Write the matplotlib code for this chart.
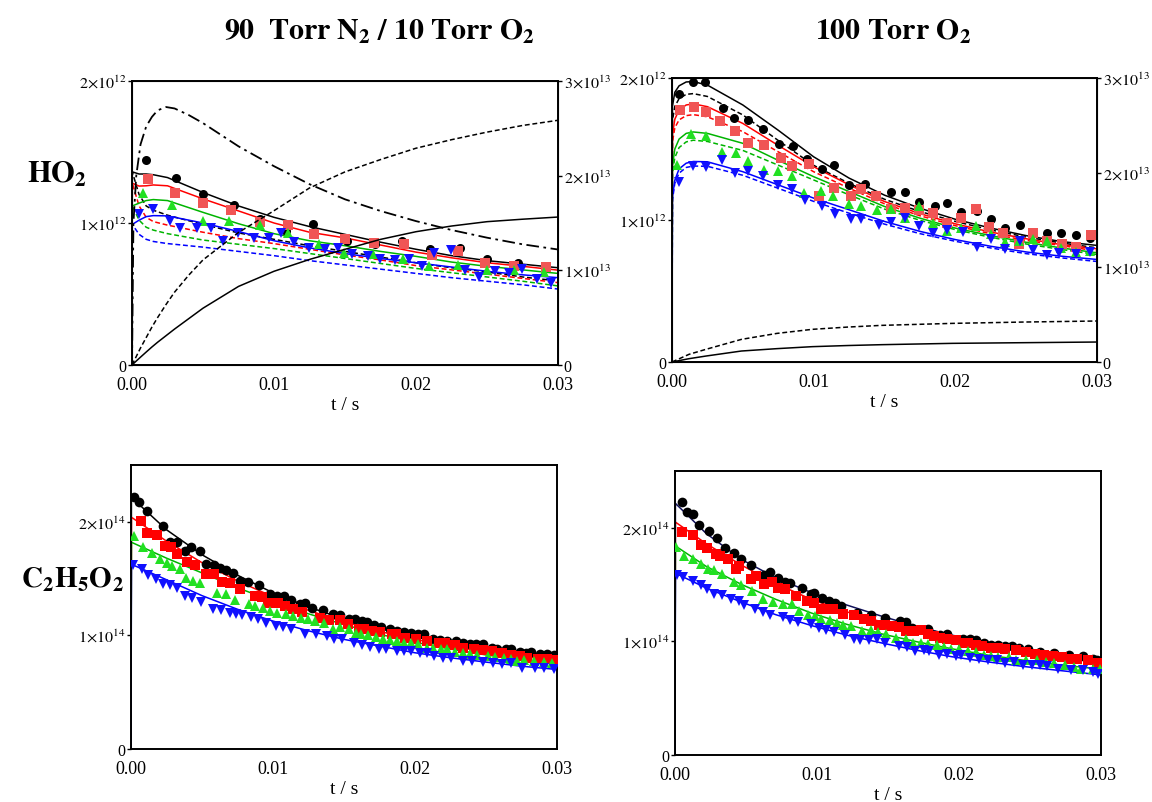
import numpy as np
import matplotlib
matplotlib.use('Agg')
import matplotlib.pyplot as plt
from matplotlib.ticker import FixedLocator

plt.rcParams['font.family'] = 'serif'
plt.rcParams['font.serif'] = ['Liberation Serif', 'DejaVu Serif']
plt.rcParams['mathtext.fontset'] = 'stix'

# ---------------- HO2, 90 Torr N2 / 10 Torr O2 (units 1e12, right axis 1e13) ----------------
t_n2_ho2_black = [0.00101, 0.0031, 0.00497, 0.00718, 0.00903, 0.01084, 0.01278, 0.01513, 0.01714,
                  0.01903, 0.02097, 0.02307, 0.02501, 0.02718]
n2_ho2_black = [1.441, 1.319, 1.202, 1.127, 1.031, 0.944, 0.995, 0.873, 0.850, 0.873, 0.815, 0.822, 0.744, 0.721]
t_n2_ho2_red = [0.00113, 0.00303, 0.00499, 0.00698, 0.009, 0.01102, 0.01283, 0.015, 0.01702, 0.01916,
                0.02113, 0.02299, 0.02483, 0.02692, 0.02912]
n2_ho2_red = [1.307, 1.209, 1.143, 1.092, 1.007, 0.986, 0.925, 0.885, 0.862, 0.854, 0.775, 0.803, 0.721, 0.697, 0.692]
t_n2_ho2_green = [0.00076, 0.00285, 0.00499, 0.00686, 0.00903, 0.01102, 0.01316, 0.01492, 0.01697,
                  0.01911, 0.02092, 0.02299, 0.02501, 0.02692, 0.02899]
n2_ho2_green = [1.209, 1.124, 1.014, 1.014, 0.986, 0.927, 0.850, 0.791, 0.779, 0.749, 0.697, 0.702, 0.669, 0.669, 0.657]
t_n2_ho2_blue = [0.0005, 0.00151, 0.00265, 0.0034, 0.00461, 0.00555, 0.00643, 0.00744, 0.00857, 0.00966,
                 0.01046, 0.01142, 0.01243, 0.01361, 0.0145, 0.0155, 0.01664, 0.01747, 0.01853, 0.01954,
                 0.02042, 0.0213, 0.02244, 0.02345, 0.02445, 0.02554, 0.02655, 0.02748, 0.02849, 0.0295]
n2_ho2_blue = [1.061, 1.101, 1.014, 0.967, 0.967, 0.967, 0.873, 0.932, 0.897, 0.897, 0.932, 0.866, 0.826, 0.819,
               0.826, 0.779, 0.768, 0.744, 0.739, 0.749, 0.697, 0.791, 0.810, 0.669, 0.622, 0.662, 0.650, 0.674,
               0.608, 0.575]

t_n2_model = [0, 0.00002, 0.0005, 0.001, 0.0015, 0.0025, 0.005, 0.0075, 0.01, 0.0125, 0.015, 0.0175,
              0.02, 0.0225, 0.025, 0.0275, 0.03]
n2_fit_black = [0, 1.36, 1.345, 1.345, 1.34, 1.32, 1.215, 1.12, 1.04, 0.975, 0.92, 0.865, 0.815, 0.77, 0.735, 0.71, 0.685]
n2_fit_red = [0, 1.28, 1.26, 1.262, 1.268, 1.262, 1.17, 1.085, 1.0, 0.935, 0.895, 0.845, 0.795, 0.755, 0.72, 0.695, 0.668]
n2_fit_green = [0, 1.12, 1.14, 1.158, 1.165, 1.158, 1.075, 0.995, 0.925, 0.875, 0.84, 0.8, 0.765, 0.725, 0.695, 0.67, 0.645]
n2_fit_blue = [0, 0.99, 1.02, 1.045, 1.052, 1.05, 1.0, 0.94, 0.875, 0.825, 0.785, 0.75, 0.72, 0.69, 0.66, 0.635, 0.615]
n2_alt_black = [0, 1.36, 1.2, 1.12, 1.09, 1.055, 0.99, 0.93, 0.885, 0.84, 0.80, 0.76, 0.72, 0.685, 0.655, 0.62, 0.592]
n2_alt_red = [0, 1.28, 1.12, 1.04, 1.01, 0.985, 0.935, 0.89, 0.855, 0.815, 0.775, 0.74, 0.70, 0.67, 0.64, 0.61, 0.58]
n2_alt_green = [0, 1.12, 1.02, 0.97, 0.95, 0.925, 0.88, 0.85, 0.82, 0.785, 0.75, 0.715, 0.68, 0.65, 0.62, 0.59, 0.557]
n2_alt_blue = [0, 0.99, 0.92, 0.885, 0.87, 0.855, 0.83, 0.80, 0.77, 0.735, 0.705, 0.675, 0.645, 0.615, 0.59, 0.565, 0.535]

t_n2_right = [0, 0.0001, 0.0003, 0.0006, 0.001, 0.0014, 0.0018, 0.0024, 0.003, 0.004, 0.005, 0.0075, 0.01,
              0.0125, 0.015, 0.0175, 0.02, 0.0225, 0.025, 0.0275, 0.03]
n2_right_dashdot = [0, 1.5, 2.0, 2.33, 2.52, 2.62, 2.69, 2.725, 2.71, 2.64, 2.555, 2.31, 2.10, 1.91, 1.75,
                    1.627, 1.52, 1.426, 1.345, 1.275, 1.22]
n2_right_dashed = [0, 0.03, 0.09, 0.18, 0.29, 0.40, 0.50, 0.64, 0.77, 0.95, 1.11, 1.40, 1.63, 1.87, 2.04,
                   2.17, 2.29, 2.38, 2.46, 2.53, 2.585]
n2_right_solid = [0, 0.014, 0.042, 0.083, 0.137, 0.19, 0.24, 0.31, 0.38, 0.49, 0.60, 0.83, 0.99, 1.115,
                  1.222, 1.327, 1.408, 1.468, 1.514, 1.54, 1.563]

# ---------------- HO2, 100 Torr O2 ----------------
t_o2_ho2_black = [0.00047, 0.00147, 0.00236, 0.0036, 0.00435, 0.00539, 0.00639, 0.00758, 0.00855, 0.00954,
                  0.01056, 0.01141, 0.01248, 0.0136, 0.01546, 0.01645, 0.01745, 0.01857, 0.01944, 0.02043,
                  0.02155, 0.02254, 0.02354, 0.02453, 0.02548, 0.02647, 0.02746, 0.02851, 0.0295]
o2_ho2_black = [1.887, 1.970, 1.970, 1.787, 1.719, 1.702, 1.644, 1.538, 1.519, 1.430, 1.360, 1.390, 1.250,
                1.254, 1.198, 1.198, 1.125, 1.097, 1.121, 1.055, 1.062, 1.004, 0.945, 0.964, 0.910, 0.910,
                0.910, 0.893, 0.870]
t_o2_ho2_red = [0.00055, 0.00154, 0.00241, 0.0034, 0.00447, 0.00539, 0.00651, 0.00768, 0.0085, 0.00967,
                0.01036, 0.01141, 0.01261, 0.01335, 0.01439, 0.01546, 0.01645, 0.01745, 0.01844, 0.01944,
                0.02043, 0.02143, 0.02237, 0.02336, 0.02448, 0.02548, 0.02647, 0.02751, 0.02851, 0.02958]
o2_ho2_red = [1.777, 1.794, 1.761, 1.700, 1.630, 1.543, 1.531, 1.437, 1.379, 1.397, 1.172, 1.226, 1.168,
              1.219, 1.168, 1.079, 1.086, 1.069, 1.046, 0.980, 1.015, 1.079, 0.952, 0.910, 0.828, 0.910,
              0.851, 0.828, 0.809, 0.891]
t_o2_ho2_green = [0.00037, 0.00137, 0.00241, 0.00353, 0.00452, 0.00534, 0.00651, 0.00751, 0.0085, 0.00932,
                  0.01049, 0.01136, 0.01248, 0.01335, 0.01447, 0.01546, 0.01645, 0.01745, 0.01844, 0.01944,
                  0.02043, 0.02143, 0.02249, 0.02354, 0.02448, 0.02548, 0.02647, 0.02746, 0.02851, 0.0295]
o2_ho2_green = [1.390, 1.608, 1.594, 1.480, 1.472, 1.414, 1.355, 1.343, 1.308, 1.191, 1.203, 1.172, 1.116,
                1.097, 1.069, 1.074, 1.015, 1.097, 0.980, 0.921, 0.945, 0.957, 0.898, 0.844, 0.851, 0.863,
                0.851, 0.804, 0.774, 0.781]
t_o2_ho2_blue = [0.00047, 0.00147, 0.00241, 0.00353, 0.00447, 0.00539, 0.00639, 0.00751, 0.0085, 0.00942,
                 0.01056, 0.01148, 0.0126, 0.01335, 0.01459, 0.01546, 0.01645, 0.01745, 0.01844, 0.01944,
                 0.02055, 0.02155, 0.02249, 0.02354, 0.02453, 0.02548, 0.02647, 0.02732, 0.02851, 0.0295]
o2_ho2_blue = [1.266, 1.379, 1.374, 1.421, 1.332, 1.343, 1.308, 1.243, 1.215, 1.144, 1.097, 1.039, 1.008,
               1.004, 0.968, 0.985, 1.015, 0.957, 0.910, 0.933, 0.914, 0.811, 0.868, 0.797, 0.851, 0.788,
               0.753, 0.769, 0.762, 0.774]

t_o2_model = [0, 0.00003, 0.0002, 0.0005, 0.001, 0.0015, 0.0025, 0.005, 0.0075, 0.01, 0.0125, 0.015,
              0.0175, 0.02, 0.0225, 0.025, 0.0275, 0.03]
o2_fit_black = [0, 1.80, 1.90, 1.945, 1.972, 1.975, 1.95, 1.81, 1.632, 1.445, 1.295, 1.175, 1.083, 1.005, 0.943, 0.89, 0.848, 0.821]
o2_alt_black = [0, 1.70, 1.80, 1.855, 1.885, 1.89, 1.87, 1.74, 1.56, 1.385, 1.258, 1.146, 1.06, 0.99, 0.93, 0.88, 0.838, 0.804]
o2_fit_red = [0, 1.60, 1.71, 1.775, 1.81, 1.818, 1.798, 1.68, 1.525, 1.375, 1.248, 1.13, 1.045, 0.973, 0.915, 0.868, 0.826, 0.797]
o2_alt_red = [0, 1.55, 1.65, 1.705, 1.735, 1.742, 1.727, 1.622, 1.48, 1.34, 1.224, 1.114, 1.03, 0.96, 0.903, 0.856, 0.82, 0.781]
o2_fit_green = [0, 1.38, 1.50, 1.57, 1.61, 1.62, 1.61, 1.54, 1.42, 1.305, 1.2, 1.095, 1.013, 0.943, 0.89, 0.843, 0.803, 0.769]
o2_alt_green = [0, 1.33, 1.44, 1.51, 1.55, 1.562, 1.553, 1.49, 1.386, 1.282, 1.177, 1.077, 0.998, 0.932, 0.878, 0.831, 0.792, 0.757]
o2_fit_blue = [0, 1.16, 1.28, 1.36, 1.40, 1.412, 1.41, 1.34, 1.247, 1.154, 1.072, 0.99, 0.92, 0.862, 0.815, 0.775, 0.745, 0.722]
o2_alt_blue = [0, 1.14, 1.26, 1.33, 1.37, 1.38, 1.378, 1.315, 1.223, 1.131, 1.048, 0.971, 0.904, 0.85, 0.803, 0.763, 0.733, 0.708]

t_o2_right = [0, 0.0012, 0.0024, 0.0049, 0.0074, 0.0099, 0.0124, 0.0148, 0.0198, 0.0248, 0.03]
o2_right_dashed = [0, 0.081, 0.134, 0.239, 0.302, 0.345, 0.369, 0.387, 0.408, 0.422, 0.433]
o2_right_solid = [0, 0.035, 0.063, 0.116, 0.141, 0.162, 0.174, 0.183, 0.197, 0.204, 0.211]

# ---------------- C2H5O2, 90 Torr N2 / 10 Torr O2 (units 1e14) ----------------
t_n2_ro2_black = [0.0002, 0.00055, 0.00113, 0.00226, 0.00277, 0.00327, 0.00377, 0.00422, 0.00483, 0.00528,
                  0.00583, 0.00624, 0.00666, 0.00717, 0.00767, 0.00825, 0.009, 0.00981, 0.01026, 0.01076,
                  0.01127, 0.01187, 0.01227, 0.01272, 0.01353, 0.01421, 0.01471, 0.01534, 0.01579, 0.01629,
                  0.0166, 0.0171, 0.01761, 0.01823, 0.01873, 0.01924, 0.01974, 0.02024, 0.02062, 0.02125,
                  0.02175, 0.02226, 0.02288, 0.02339, 0.02389, 0.02427, 0.02477, 0.0254, 0.02578, 0.0264,
                  0.02678, 0.02741, 0.02779, 0.02816, 0.02879, 0.0293, 0.0298]
n2_ro2_black = [2.215, 2.176, 2.097, 1.959, 1.818, 1.824, 1.744, 1.774, 1.744, 1.626, 1.618, 1.597, 1.574,
                1.547, 1.479, 1.471, 1.441, 1.362, 1.347, 1.347, 1.309, 1.274, 1.282, 1.244, 1.224, 1.191,
                1.176, 1.147, 1.141, 1.126, 1.118, 1.088, 1.074, 1.053, 1.038, 1.029, 1.024, 1.009, 1.009,
                0.971, 0.959, 0.950, 0.950, 0.935, 0.921, 0.921, 0.921, 0.891, 0.882, 0.876, 0.882, 0.853,
                0.847, 0.853, 0.832, 0.832, 0.824]
t_n2_ro2_red = [0.0007, 0.00113, 0.00181, 0.00239, 0.00282, 0.00322, 0.00397, 0.00453, 0.00528, 0.00583,
                0.00641, 0.00699, 0.00767, 0.00875, 0.00925, 0.00968, 0.01036, 0.01086, 0.01144, 0.01207,
                0.01333, 0.01396, 0.01471, 0.01529, 0.01604, 0.0164, 0.01697, 0.01755, 0.01836, 0.01866,
                0.01931, 0.02007, 0.02087, 0.02168, 0.02213, 0.02283, 0.02339, 0.02414, 0.02477, 0.0254,
                0.02615, 0.02678, 0.02741, 0.02791, 0.02867, 0.0293, 0.0298]
n2_ro2_red = [2.009, 1.900, 1.882, 1.788, 1.774, 1.715, 1.647, 1.618, 1.538, 1.538, 1.471, 1.465, 1.412,
              1.347, 1.341, 1.288, 1.288, 1.259, 1.235, 1.206, 1.156, 1.132, 1.132, 1.097, 1.059, 1.059,
              1.038, 1.029, 1.009, 1.009, 0.979, 0.971, 0.950, 0.935, 0.929, 0.912, 0.891, 0.882, 0.871,
              0.862, 0.841, 0.824, 0.818, 0.803, 0.788, 0.788, 0.782]
t_n2_ro2_green = [0.0002, 0.00088, 0.00146, 0.00201, 0.00251, 0.00289, 0.00347, 0.0039, 0.0044, 0.00483,
                  0.00604, 0.00666, 0.00729, 0.0083, 0.00875, 0.0093, 0.00981, 0.01031, 0.01094, 0.01144,
                  0.01195, 0.01245, 0.01295, 0.01358, 0.01421, 0.01471, 0.01534, 0.01584, 0.01622, 0.01672,
                  0.01723, 0.01773, 0.01823, 0.01873, 0.01924, 0.01974, 0.02024, 0.02082, 0.02125, 0.02183,
                  0.02226, 0.02283, 0.02339, 0.02389, 0.02439, 0.02515, 0.02565, 0.02628, 0.02678, 0.02716,
                  0.02771, 0.02837, 0.02905, 0.02967]
n2_ro2_green = [1.871, 1.782, 1.729, 1.676, 1.635, 1.612, 1.582, 1.509, 1.479, 1.459, 1.376, 1.362, 1.312,
                1.274, 1.259, 1.244, 1.215, 1.200, 1.185, 1.171, 1.156, 1.141, 1.126, 1.112, 1.059, 1.076,
                1.059, 1.024, 1.009, 1.000, 0.988, 0.971, 0.959, 0.950, 0.929, 0.929, 0.921, 0.891, 0.891,
                0.876, 0.876, 0.853, 0.847, 0.832, 0.824, 0.818, 0.812, 0.803, 0.794, 0.774, 0.782, 0.774,
                0.765, 0.753]
t_n2_ro2_blue = [0.00013, 0.0008, 0.00121, 0.00176, 0.00226, 0.00272, 0.00327, 0.00377, 0.00428, 0.0049,
                 0.00578, 0.00634, 0.00699, 0.00742, 0.00785, 0.00842, 0.00893, 0.00951, 0.01018, 0.01069,
                 0.01127, 0.01227, 0.01303, 0.01378, 0.01428, 0.01484, 0.01572, 0.0163, 0.01685, 0.01748,
                 0.01798, 0.01873, 0.01924, 0.01974, 0.02032, 0.02087, 0.02132, 0.022, 0.02251, 0.02339,
                 0.02401, 0.02477, 0.02552, 0.02615, 0.02678, 0.02754, 0.02842, 0.02905, 0.0298]
n2_ro2_blue = [1.618, 1.582, 1.529, 1.494, 1.450, 1.441, 1.421, 1.347, 1.332, 1.294, 1.229, 1.224, 1.200,
               1.185, 1.176, 1.165, 1.141, 1.106, 1.082, 1.076, 1.059, 1.009, 1.009, 0.994, 0.971, 0.971,
               0.929, 0.912, 0.900, 0.882, 0.882, 0.862, 0.862, 0.862, 0.847, 0.847, 0.818, 0.803, 0.803,
               0.774, 0.774, 0.765, 0.753, 0.744, 0.759, 0.715, 0.715, 0.715, 0.706]

t_n2_ro2_model = [0, 0.00003, 0.0025, 0.005, 0.0075, 0.01, 0.0125, 0.015, 0.0175, 0.02, 0.0225, 0.025, 0.0275, 0.03]
n2_ro2_fit_black = [0, 2.215, 1.93, 1.71, 1.53, 1.375, 1.25, 1.145, 1.06, 0.985, 0.925, 0.875, 0.835, 0.80]
n2_ro2_fit_red = [0, 2.04, 1.83, 1.64, 1.48, 1.34, 1.22, 1.12, 1.035, 0.965, 0.905, 0.855, 0.815, 0.78]
n2_ro2_fit_green = [0, 1.82, 1.68, 1.55, 1.42, 1.30, 1.19, 1.095, 1.01, 0.94, 0.88, 0.828, 0.785, 0.75]
n2_ro2_fit_blue = [0, 1.626, 1.49, 1.35, 1.23, 1.126, 1.04, 0.965, 0.906, 0.847, 0.803, 0.765, 0.729, 0.70]

# ---------------- C2H5O2, 100 Torr O2 ----------------
t_o2_ro2_black = [0.0005, 0.00082, 0.00124, 0.00169, 0.00238, 0.00297, 0.00355, 0.00416, 0.00466, 0.00535,
                  0.00627, 0.00669, 0.00726, 0.00776, 0.00813, 0.00892, 0.00957, 0.00982, 0.01036, 0.01086,
                  0.0113, 0.01168, 0.01284, 0.01383, 0.01482, 0.01582, 0.01626, 0.01668, 0.0178, 0.01825,
                  0.01867, 0.01916, 0.02028, 0.02077, 0.02122, 0.02177, 0.02226, 0.02276, 0.02325, 0.02375,
                  0.02424, 0.02486, 0.02573, 0.02672, 0.02772, 0.02871, 0.02945, 0.0297]
o2_ro2_black = [2.224, 2.141, 2.118, 2.029, 1.971, 1.912, 1.824, 1.782, 1.724, 1.671, 1.582, 1.612, 1.559,
                1.524, 1.518, 1.471, 1.421, 1.429, 1.382, 1.353, 1.341, 1.312, 1.253, 1.235, 1.206, 1.176,
                1.171, 1.118, 1.106, 1.059, 1.059, 1.068, 1.024, 1.018, 1.009, 0.988, 0.971, 0.971, 0.959,
                0.959, 0.941, 0.929, 0.906, 0.900, 0.876, 0.871, 0.847, 0.832]
t_o2_ro2_red = [0.0005, 0.00124, 0.00181, 0.00223, 0.00288, 0.00317, 0.00372, 0.00429, 0.00454, 0.00535,
                0.0057, 0.00627, 0.00684, 0.00726, 0.00776, 0.0085, 0.00932, 0.00982, 0.01031, 0.01066,
                0.01111, 0.01185, 0.01259, 0.01329, 0.01383, 0.01438, 0.01482, 0.01527, 0.01577, 0.01626,
                0.01681, 0.0173, 0.0178, 0.01825, 0.01867, 0.01916, 0.01978, 0.02028, 0.02065, 0.02122,
                0.02164, 0.02226, 0.02276, 0.02325, 0.024, 0.02474, 0.02536, 0.02598, 0.0266, 0.02722,
                0.02784, 0.02834, 0.02908, 0.02975]
o2_ro2_red = [1.965, 1.941, 1.847, 1.824, 1.765, 1.753, 1.724, 1.635, 1.665, 1.553, 1.576, 1.509, 1.524,
              1.471, 1.459, 1.400, 1.353, 1.341, 1.288, 1.288, 1.282, 1.244, 1.229, 1.194, 1.176, 1.147,
              1.147, 1.135, 1.126, 1.088, 1.088, 1.097, 1.068, 1.047, 1.029, 1.024, 1.009, 0.988, 0.988,
              0.971, 0.959, 0.941, 0.941, 0.935, 0.921, 0.906, 0.891, 0.882, 0.871, 0.862, 0.847, 0.841,
              0.832, 0.812]
t_o2_ro2_green = [0.00007, 0.00064, 0.00124, 0.00181, 0.00231, 0.00273, 0.0033, 0.00416, 0.00466, 0.0054,
                  0.0062, 0.00689, 0.00764, 0.00826, 0.00875, 0.00937, 0.00987, 0.01031, 0.01091, 0.0114,
                  0.01185, 0.0124, 0.01314, 0.01378, 0.01433, 0.01487, 0.01557, 0.01626, 0.01676, 0.0173,
                  0.0178, 0.01842, 0.01891, 0.01941, 0.02003, 0.02065, 0.02122, 0.02177, 0.02226, 0.02276,
                  0.0235, 0.024, 0.02474, 0.02548, 0.0261, 0.02672, 0.02747, 0.02809, 0.02858, 0.02945, 0.02995]
o2_ro2_green = [1.832, 1.753, 1.729, 1.685, 1.641, 1.626, 1.597, 1.524, 1.494, 1.441, 1.376, 1.347, 1.332,
                1.332, 1.265, 1.235, 1.224, 1.200, 1.185, 1.165, 1.147, 1.135, 1.088, 1.097, 1.082, 1.068,
                1.029, 1.018, 0.988, 0.988, 0.979, 0.971, 0.950, 0.935, 0.935, 0.912, 0.906, 0.876, 0.871,
                0.862, 0.862, 0.832, 0.832, 0.832, 0.818, 0.812, 0.794, 0.774, 0.759, 0.759, 0.753]
t_o2_ro2_blue = [0.00015, 0.00057, 0.00124, 0.00181, 0.00223, 0.00273, 0.0033, 0.00397, 0.00454, 0.00486,
                 0.00565, 0.0062, 0.00669, 0.00759, 0.00813, 0.00863, 0.00957, 0.01011, 0.01066, 0.01123,
                 0.01197, 0.01259, 0.01304, 0.01363, 0.0142, 0.01477, 0.01577, 0.01631, 0.01693, 0.0175,
                 0.01792, 0.01859, 0.01916, 0.01978, 0.02015, 0.02077, 0.02139, 0.02201, 0.02271, 0.02325,
                 0.02387, 0.02449, 0.02511, 0.02573, 0.02623, 0.02697, 0.02791, 0.02871, 0.02945, 0.02982]
o2_ro2_blue = [1.582, 1.568, 1.529, 1.494, 1.459, 1.421, 1.412, 1.376, 1.353, 1.318, 1.288, 1.259, 1.235,
               1.215, 1.185, 1.171, 1.156, 1.118, 1.097, 1.082, 1.053, 1.024, 1.009, 1.009, 1.024, 0.988,
               0.959, 0.950, 0.912, 0.921, 0.912, 0.876, 0.891, 0.871, 0.882, 0.853, 0.847, 0.832, 0.832,
               0.812, 0.818, 0.788, 0.788, 0.788, 0.782, 0.759, 0.744, 0.744, 0.729, 0.715]

t_o2_ro2_model = [0, 0.00003, 0.0022, 0.0047, 0.0071, 0.0096, 0.0121, 0.0146, 0.0171, 0.0195, 0.022, 0.0245, 0.027, 0.03]
o2_ro2_fit_black = [0, 2.215, 1.95, 1.72, 1.56, 1.43, 1.32, 1.22, 1.13, 1.055, 0.99, 0.935, 0.885, 0.83]
o2_ro2_fit_red = [0, 2.05, 1.86, 1.67, 1.51, 1.37, 1.26, 1.17, 1.09, 1.02, 0.965, 0.915, 0.87, 0.82]
o2_ro2_fit_green = [0, 1.84, 1.66, 1.50, 1.37, 1.25, 1.15, 1.065, 0.995, 0.935, 0.88, 0.835, 0.795, 0.755]
o2_ro2_fit_blue = [0, 1.60, 1.47, 1.345, 1.235, 1.14, 1.055, 0.985, 0.92, 0.865, 0.82, 0.78, 0.745, 0.705]

BLACK = '#000000'
RED_LINE = '#ff0000'
GREEN_LINE = '#00b400'
BLUE_LINE = '#0000ff'
RED_PT_TOP = '#f05555'
RED_PT_BOT = '#ff0000'
GREEN_PT = '#22e022'
BLUE_PT = '#1010ff'
DASH = (0, (3.2, 1.8))
DASHDOT = (0, (7, 2.5, 1.5, 2.5))
TICK_FS = 11.5


def sci(m, e):
    if m == 0:
        return '0'
    return r'$%d{\times}10^{%d}$' % (m, e)


def style_axis(ax, ymax, yticks, ylabels):
    ax.set_xlim(0, 0.03)
    ax.set_ylim(0, ymax)
    ax.xaxis.set_major_locator(FixedLocator([0, 0.01, 0.02, 0.03]))
    ax.set_xticklabels(['0.00', '0.01', '0.02', '0.03'])
    ax.yaxis.set_major_locator(FixedLocator(yticks))
    ax.set_yticklabels(ylabels)
    ax.tick_params(axis='x', length=0, pad=8, labelsize=13)
    ax.tick_params(axis='y', length=3, width=1, pad=1, labelsize=TICK_FS)
    for s in ax.spines.values():
        s.set_linewidth(1.4)
    ax.set_xlabel('t / s', fontsize=14, labelpad=2)


def style_right(ax):
    ax.set_ylim(0, 3e13)
    ax.yaxis.set_major_locator(FixedLocator([0, 1e13, 2e13, 3e13]))
    ax.set_yticklabels([sci(0, 0), sci(1, 13), sci(2, 13), sci(3, 13)])
    ax.tick_params(axis='y', length=3, width=1, pad=1, labelsize=TICK_FS)


def scale(vals, f):
    return np.array(vals) * f


def draw_points(ax, t, v, marker, color, f, ms):
    ax.plot(t, scale(v, f), linestyle='none', marker=marker, color=color, markersize=ms,
            markeredgewidth=0, zorder=3)


fig = plt.figure(figsize=(11.52, 8.03), dpi=100)
W, H = 1152.0, 803.0

# --- top left ---
ax1 = fig.add_axes([132 / W, 1 - 366 / H, 426 / W, 284 / H])
style_axis(ax1, 2e12, [0, 1e12, 2e12], [sci(0, 0), sci(1, 12), sci(2, 12)])
for fit, alt, col in [(n2_fit_black, n2_alt_black, BLACK), (n2_fit_red, n2_alt_red, RED_LINE),
                      (n2_fit_green, n2_alt_green, GREEN_LINE), (n2_fit_blue, n2_alt_blue, BLUE_LINE)]:
    ax1.plot(t_n2_model, scale(fit, 1e12), color=col, lw=1.1)
    ax1.plot(t_n2_model, scale(alt, 1e12), color=col, lw=1.1, linestyle=DASH)
draw_points(ax1, t_n2_ho2_black, n2_ho2_black, 'o', BLACK, 1e12, 6.5)
draw_points(ax1, t_n2_ho2_red, n2_ho2_red, 's', RED_PT_TOP, 1e12, 6.5)
draw_points(ax1, t_n2_ho2_green, n2_ho2_green, '^', GREEN_PT, 1e12, 7)
draw_points(ax1, t_n2_ho2_blue, n2_ho2_blue, 'v', BLUE_PT, 1e12, 7)
ax1r = ax1.twinx()
style_right(ax1r)
ax1r.plot(t_n2_right, scale(n2_right_dashdot, 1e13), color=BLACK, lw=1.3, linestyle=DASHDOT)
ax1r.plot(t_n2_right, scale(n2_right_dashed, 1e13), color=BLACK, lw=1.1, linestyle=DASH)
ax1r.plot(t_n2_right, scale(n2_right_solid, 1e13), color=BLACK, lw=1.1)

# --- top right ---
ax2 = fig.add_axes([672 / W, 1 - 363 / H, 425 / W, 284 / H])
style_axis(ax2, 2e12, [0, 1e12, 2e12], [sci(0, 0), sci(1, 12), sci(2, 12)])
for fit, alt, col in [(o2_fit_black, o2_alt_black, BLACK), (o2_fit_red, o2_alt_red, RED_LINE),
                      (o2_fit_green, o2_alt_green, GREEN_LINE), (o2_fit_blue, o2_alt_blue, BLUE_LINE)]:
    ax2.plot(t_o2_model, scale(fit, 1e12), color=col, lw=1.1)
    ax2.plot(t_o2_model, scale(alt, 1e12), color=col, lw=1.1, linestyle=DASH)
draw_points(ax2, t_o2_ho2_black, o2_ho2_black, 'o', BLACK, 1e12, 6.5)
draw_points(ax2, t_o2_ho2_red, o2_ho2_red, 's', RED_PT_TOP, 1e12, 6.5)
draw_points(ax2, t_o2_ho2_green, o2_ho2_green, '^', GREEN_PT, 1e12, 7)
draw_points(ax2, t_o2_ho2_blue, o2_ho2_blue, 'v', BLUE_PT, 1e12, 7)
ax2r = ax2.twinx()
style_right(ax2r)
ax2r.plot(t_o2_right, scale(o2_right_dashed, 1e13), color=BLACK, lw=1.1, linestyle=DASH)
ax2r.plot(t_o2_right, scale(o2_right_solid, 1e13), color=BLACK, lw=1.1)

# --- bottom left ---
ax3 = fig.add_axes([131 / W, 1 - 750 / H, 426 / W, 284 / H])
style_axis(ax3, 2.5e14, [0, 1e14, 2e14], [sci(0, 0), sci(1, 14), sci(2, 14)])
for fit, col in [(n2_ro2_fit_black, BLACK), (n2_ro2_fit_red, RED_LINE),
                 (n2_ro2_fit_green, GREEN_LINE), (n2_ro2_fit_blue, BLUE_LINE)]:
    ax3.plot(t_n2_ro2_model, scale(fit, 1e14), color=col, lw=1.1)
draw_points(ax3, t_n2_ro2_black, n2_ro2_black, 'o', BLACK, 1e14, 7)
draw_points(ax3, t_n2_ro2_red, n2_ro2_red, 's', RED_PT_BOT, 1e14, 7.5)
draw_points(ax3, t_n2_ro2_green, n2_ro2_green, '^', GREEN_PT, 1e14, 7.5)
draw_points(ax3, t_n2_ro2_blue, n2_ro2_blue, 'v', BLUE_PT, 1e14, 7.5)

# --- bottom right ---
ax4 = fig.add_axes([675 / W, 1 - 756 / H, 426 / W, 284 / H])
style_axis(ax4, 2.5e14, [0, 1e14, 2e14], [sci(0, 0), sci(1, 14), sci(2, 14)])
for fit, col in [(o2_ro2_fit_red, RED_LINE), (o2_ro2_fit_green, GREEN_LINE),
                 (o2_ro2_fit_blue, BLUE_LINE), (o2_ro2_fit_black, '#10105a')]:
    ax4.plot(t_o2_ro2_model, scale(fit, 1e14), color=col, lw=1.1)
draw_points(ax4, t_o2_ro2_black, o2_ro2_black, 'o', BLACK, 1e14, 7)
draw_points(ax4, t_o2_ro2_red, o2_ro2_red, 's', RED_PT_BOT, 1e14, 7.5)
draw_points(ax4, t_o2_ro2_green, o2_ro2_green, '^', GREEN_PT, 1e14, 7.5)
draw_points(ax4, t_o2_ro2_blue, o2_ro2_blue, 'v', BLUE_PT, 1e14, 7.5)

# titles and row labels
fig.text(379 / W, 1 - 32 / H, r'$\mathbf{90\ \ Torr\ N_2\ /\ 10\ Torr\ O_2}$', ha='center', va='center', fontsize=21.5)
fig.text(893 / W, 1 - 32 / H, r'$\mathbf{100\ Torr\ O_2}$', ha='center', va='center', fontsize=21.5)
fig.text(57 / W, 1 - 175 / H, r'$\mathbf{HO_2}$', ha='center', va='center', fontsize=22)
fig.text(72 / W, 1 - 580 / H, r'$\mathbf{C_2H_5O_2}$', ha='center', va='center', fontsize=21)

fig.savefig('out.png', dpi=100)
